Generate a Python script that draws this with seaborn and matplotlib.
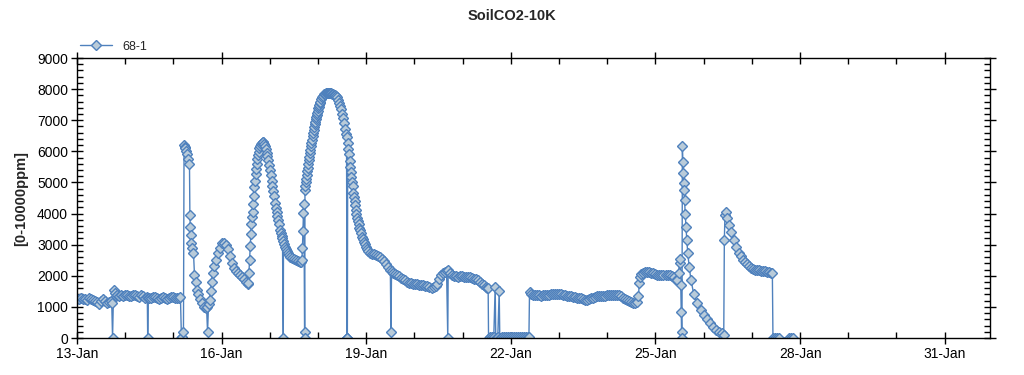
import matplotlib
matplotlib.use('Agg')
import matplotlib.pyplot as plt
import matplotlib.dates as mdates
from matplotlib.ticker import MultipleLocator, FixedLocator
import pandas as pd
import seaborn as sns

# 数据：自 13-Jan 00:00 起的小时数 / CO2 读数（每行一段）
start = pd.Timestamp('2021-01-13')
series_name = '68-1'

hours = [
    0, 1, 2, 3, 4, 5, 6, 7, 8, 9, 10, 11, 12, 13, 14, 15, 16, 17, 17.3, 17.7,
    18.2, 18.8, 19.5, 20, 21, 22, 23, 24, 25, 26, 27, 28, 29, 30, 31, 32, 33, 34, 35,
    35.2, 35.5, 36, 37, 38, 39, 40, 41, 42, 43, 44, 45, 46, 47, 48, 49, 50, 51, 51.5,
    52, 52.3, 53, 53.3, 53.6, 54, 54.5, 55, 55.5, 56, 56.2, 56.4, 56.7, 57, 57.5, 58, 58.5, 59, 59.5, 60, 61, 62, 63, 64, 64.5, 65, 65.5, 66, 66.5, 67, 67.5, 68, 69,
    70, 71, 72, 73, 74, 75, 76, 77, 78, 79, 80, 81, 82, 83, 84, 85,
    85.3, 85.6, 85.9, 86.2, 86.5, 86.8, 87.1, 87.4, 87.7, 88, 88.3, 88.6, 88.9, 89.2, 89.5, 89.8, 90.1, 90.4, 90.8, 91.2, 91.6, 92, 92.4,
    92.8, 93.2, 93.6, 94, 94.4, 94.8, 95.2, 95.6, 96.1, 96.5, 96.9, 97.3, 97.7, 98.1, 98.6, 99, 99.4, 99.8, 100.2, 100.6, 101.1, 101.5, 101.9, 102.3, 102.7,
    102.8, 103.2, 103.6, 104.1, 104.6, 105.1, 105.6, 106.1, 107, 108, 109, 110, 111, 111.5, 112, 112.25, 112.5, 112.75, 113, 113.3, 113.4,
    113.5, 113.75, 114, 114.25, 114.5, 114.75, 115, 115.25, 115.5, 115.75, 116, 116.25, 116.5, 116.75, 117, 117.25, 117.5, 117.75, 118, 118.25, 118.5, 118.75, 119, 119.25, 119.5, 119.75, 120, 120.25, 120.5, 120.75, 121,
    121.5, 122, 122.5, 123, 123.5, 124, 124.5, 125, 125.5, 126, 126.5, 127, 127.5, 128, 128.5, 129, 129.5,
    130, 130.5, 131, 131.5, 132, 132.5, 133, 133.5, 134, 134.2, 134.4, 134.5, 134.6,
    134.8, 135.1, 135.4, 135.7, 136, 136.3, 136.6, 136.9, 137.2, 137.6, 137.9, 138.2, 138.5, 138.8, 139.1, 139.4, 139.8, 140.2, 140.6, 141, 141.4, 141.8, 142.3, 142.8, 143.3, 143.8, 144.4, 145,
    146, 147, 148, 149, 150, 151, 152, 153, 154, 155, 156, 156.3,
    156.6, 157.5, 158.5, 159.5, 160.5, 161.5, 162.5, 163.5, 164.5, 165.5, 166.5, 167.5, 168.5, 169.5, 170.5, 171.5, 172.5, 173.5, 174.5, 175.5, 176.5, 177.5, 178.5,
    179, 180, 181, 182, 183, 184, 184.6, 184.8, 185.5, 186.5, 187.5, 188.5, 189.5, 190.5, 191.5, 192.5, 193.5, 194.5, 195.5, 196.5, 197.5, 198.5, 199.5, 200.5, 201.5, 202.5, 203.5, 204.2, 204.7,
    204.9, 205.5, 206.5, 207.5, 208.2, 208.5, 209.5, 210.2, 210.5, 211.5, 212.5, 213.5, 214.5, 215.5, 216.5, 217.5, 218.5, 219.5, 220.5, 221.5, 222.5, 223.5, 224.5, 225,
    225.3, 226, 227, 228, 229, 230, 231, 232, 233, 234, 235, 236, 237, 238, 239, 240, 241, 242, 243, 244, 245, 246, 247, 248, 249, 250, 251, 252,
    253, 254, 255, 256, 257, 258, 259, 260, 261, 262, 263, 264, 265, 266, 267, 268, 269, 270, 271, 272, 273, 274, 275, 276, 277, 278, 279,
    279.5, 280, 280.5, 281, 282, 283, 284, 285, 286, 287, 288, 289, 290, 291, 292, 293, 294, 295, 296, 297, 298, 298.8,
    299.5, 300, 300.3, 300.6, 300.8, 301, 301.2, 301.4, 301.6, 301.8, 302, 302.2, 302.5, 302.8, 303.2, 303.6, 304.1, 304.8, 305.7, 307, 308.8, 310.5, 312, 313.5, 315, 316.5, 318, 319.5, 321, 322,
    322.3, 322.6, 323, 323.8, 324.6, 325.8, 327.1, 328.3, 329.6, 330.5, 331.5, 332.5, 333.5, 334.5, 335.5, 336.5, 337.5, 338.5, 339.5, 340.5, 341.5, 342.5, 343.5, 344.5, 345.5, 346.2,
    346.5, 347.5, 348.5, 349.5, 354.5, 355.5, 356.5,
]

ppm = [
    1260, 1250, 1280, 1240, 1260, 1230, 1270, 1250, 1220, 1200, 1150, 1100, 1180, 1260, 1200, 1120, 1160, 1180, 1120, 0,
    1540, 1450, 1360, 1380, 1360, 1390, 1350, 1370, 1380, 1340, 1360, 1390, 1370, 1350, 1330, 1380, 1340, 1300, 1320,
    0, 1290, 1270, 1300, 1330, 1310, 1280, 1260, 1300, 1320, 1290, 1250, 1280, 1310, 1330, 1290, 1280, 1300, 1310,
    0, 20, 200, 6200, 6150, 6100, 6000, 5900, 5750, 5600, 3950, 3580, 3300, 3050, 2900, 2730, 2020, 1800, 1540, 1400, 1250, 1120, 1000, 960, 1000, 190, 1100, 1220, 1500, 1800, 2090, 2300, 2500,
    2730, 2900, 3040, 3050, 2980, 2850, 2650, 2400, 2250, 2150, 2080, 2020, 1970, 1900, 1800, 1720,
    1780, 2100, 2500, 2950, 3350, 3650, 3880, 4060, 4320, 4580, 4860, 5060, 5260, 5440, 5600, 5760, 5890, 5990, 6100, 6170, 6230, 6280, 6310,
    6300, 6250, 6170, 6070, 5960, 5840, 5710, 5570, 5400, 5230, 5060, 4890, 4720, 4550, 4330, 4190, 4050, 3920, 3790, 3650, 3470, 3380, 3290, 3200, 0,
    3120, 3030, 2930, 2860, 2790, 2730, 2670, 2610, 2570, 2540, 2510, 2480, 2430, 2450, 2520, 2900, 3450, 4010, 4300, 180, 0,
    4760, 4880, 5000, 5120, 5240, 5360, 5480, 5600, 5720, 5830, 5940, 6050, 6160, 6270, 6380, 6490, 6600, 6700, 6790, 6870, 6950, 7030, 7100, 7170, 7240, 7310, 7380, 7440, 7490, 7540, 7590,
    7670, 7740, 7790, 7830, 7850, 7860, 7870, 7870, 7860, 7870, 7860, 7850, 7830, 7820, 7800, 7780, 7740,
    7650, 7560, 7460, 7350, 7200, 7060, 6900, 6720, 6560, 6470, 0, 0, 0,
    6280, 6090, 5900, 5700, 5510, 5350, 5190, 5030, 4870, 4650, 4520, 4390, 4260, 4130, 4000, 3870, 3760, 3650, 3550, 3460, 3360, 3260, 3170, 3090, 3010, 2940, 2860, 2790,
    2730, 2700, 2690, 2670, 2640, 2600, 2540, 2470, 2380, 2280, 2190, 180,
    2150, 2100, 2050, 2010, 1980, 1940, 1900, 1860, 1800, 1770, 1760, 1740, 1730, 1720, 1700, 1700, 1700, 1680, 1660, 1640, 1620, 1630, 1680,
    1720, 1900, 2020, 2080, 2120, 2140, 0, 2170, 2100, 2020, 2000, 1990, 1970, 1980, 1980, 1960, 1970, 1970, 1950, 1930, 1910, 1890, 1860, 1810, 1750, 1690, 1640, 1610, 1600,
    0, 20, 30, 20, 1650, 0, 30, 1510, 0, 20, 40, 30, 20, 30, 40, 20, 30, 20, 40, 30, 20, 30, 40, 30,
    1490, 1430, 1380, 1370, 1390, 1380, 1360, 1370, 1380, 1380, 1390, 1400, 1410, 1420, 1420, 1430, 1410, 1390, 1370, 1360, 1350, 1340, 1330, 1320, 1300, 1290, 1270, 1250,
    1230, 1230, 1250, 1280, 1300, 1320, 1340, 1340, 1350, 1360, 1360, 1370, 1380, 1380, 1390, 1390, 1380, 1380, 1350, 1300, 1260, 1220, 1180, 1150, 1130, 1120, 1150,
    1350, 1760, 1950, 2050, 2090, 2120, 2130, 2120, 2100, 2080, 2060, 2040, 2020, 2030, 2030, 2020, 2020, 2010, 1990, 1950, 1880, 1860,
    2100, 2400, 2530, 1700, 850, 200, 0, 6170, 5670, 5290, 4970, 4760, 4440, 4000, 3580, 3150, 2720, 2290, 1860, 1430, 1120, 900, 750, 600, 470, 360, 260, 200, 150, 100,
    3150, 3950, 4050, 3850, 3630, 3400, 3150, 2920, 2720, 2620, 2520, 2430, 2370, 2300, 2260, 2230, 2200, 2180, 2170, 2160, 2150, 2140, 2130, 2110, 2090, 2080,
    0, 0, 0, 0, 0, 0, 0,
]
assert len(hours) == len(ppm), (len(hours), len(ppm))

tick_days = [13, 16, 19, 22, 25, 28, 31]
x_span_days = 18.94
y_max = 9000

df = pd.DataFrame({
    'time': start + pd.to_timedelta(hours, unit='h'),
    'ppm': ppm,
})

sns.set_style('ticks')
plt.rcParams['font.family'] = ['Liberation Sans', 'DejaVu Sans']

fig = plt.figure(figsize=(10.24, 3.75), dpi=100)
ax = fig.add_axes([77 / 1024, 37 / 375, 913 / 1024, 280 / 375])

line_color = '#4f81bd'
sns.lineplot(data=df, x='time', y='ppm', ax=ax, sort=False, estimator=None,
             color=line_color, linewidth=1, marker='D', markersize=4.8,
             markerfacecolor='#b9cbd9', markeredgecolor=line_color,
             markeredgewidth=1.0, label=series_name)

ax.set_xlim(start, start + pd.Timedelta(days=x_span_days))
ax.set_ylim(0, y_max)

ax.xaxis.set_major_locator(FixedLocator(
    [mdates.date2num(start + pd.Timedelta(days=d - 13)) for d in tick_days]))
ax.xaxis.set_major_formatter(mdates.DateFormatter('%d-%b'))
ax.xaxis.set_minor_locator(mdates.DayLocator())
ax.yaxis.set_major_locator(MultipleLocator(1000))
ax.yaxis.set_minor_locator(MultipleLocator(200))

for s in ax.spines.values():
    s.set_color('black')
    s.set_linewidth(1)

ax.tick_params(which='major', direction='inout', length=9, width=1,
               labelsize=10, colors='black', top=True, right=True,
               labeltop=False, labelright=False, pad=2)
ax.tick_params(which='minor', direction='in', length=4, width=1,
               top=True, right=True, colors='black')

ax.set_xlabel('')
ax.set_ylabel('[0-10000ppm]', fontsize=10.5, fontweight='bold', labelpad=6)
fig.suptitle('SoilCO2-10K', fontsize=10.5, fontweight='bold', x=0.5, y=0.975)

ax.legend(loc='lower left', bbox_to_anchor=(0.0, 1.01), frameon=False,
          fontsize=9, handlelength=2.6, borderaxespad=0, borderpad=0.2)

fig.savefig('out.png', dpi=100)
